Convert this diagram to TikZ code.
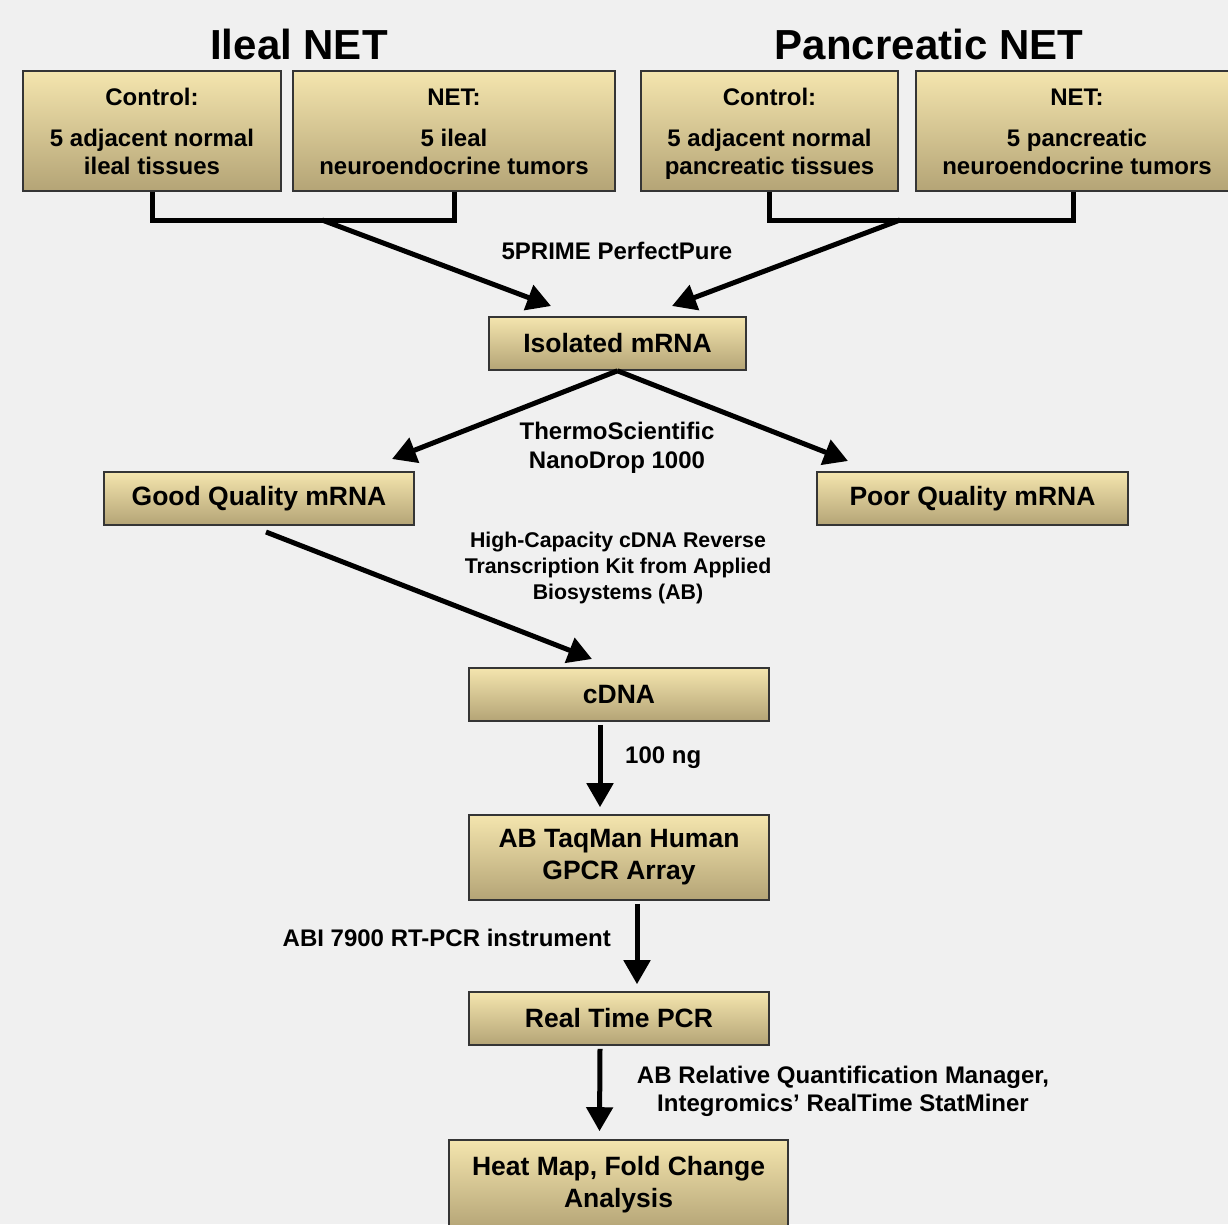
\documentclass[tikz,border=0pt]{standalone}
\usepackage{fontspec}
\setmainfont{Liberation Sans}
\usetikzlibrary{arrows.meta}
\definecolor{bg}{HTML}{F0F0F0}
\definecolor{boxtop}{HTML}{F4E5AE}
\definecolor{boxbot}{HTML}{B4A476}
\definecolor{boxedge}{HTML}{353535}
\tikzset{
  box/.style={draw=boxedge, line width=1.6pt, top color=boxtop, bottom color=boxbot,
    inner sep=0pt, align=center, font=\bfseries\fontsize{26.5}{32}\selectfont},
  topbox/.style={box, font=\bfseries\fontsize{24}{28}\selectfont},
  lbl/.style={inner sep=0pt, align=center, font=\bfseries\fontsize{24}{29}\selectfont},
  ttl/.style={inner sep=0pt, font=\bfseries\fontsize{42}{46}\selectfont},
  conn/.style={line width=5pt, black},
  arr/.style={line width=5pt, black, -{Triangle[length=24pt,width=26pt]}}
}
\newcommand{\topst}{\rule{0pt}{23pt}}
\newcommand{\botst}{\vphantom{p}}
\newcommand{\ind}{\hspace*{8pt}}
\begin{document}
\begin{tikzpicture}[x=1pt,y=-1pt]
\useasboundingbox (0,0) rectangle (1228,1224);
\fill[bg] (0,0) rectangle (1228,1224);

% titles
\node[ttl] (t1) at (299,44) {Ileal NET};
\node[ttl] (t2) at (929,44) {Pancreatic NET};

% top boxes
\node[topbox, minimum width=258pt, minimum height=120pt] (c1) at (152,131)
  {\topst Control:\\[13pt]5 adjacent normal\\ileal tissues\botst};
\node[topbox, minimum width=322pt, minimum height=120pt] (n1) at (454,131)
  {\topst NET:\\[13pt]5 ileal\\neuroendocrine tumors\botst};
\node[topbox, minimum width=257pt, minimum height=120pt] (c2) at (769.5,131)
  {\topst Control:\\[13pt]5 adjacent normal\\pancreatic tissues\botst};
\node[topbox, minimum width=314pt, minimum height=120pt] (n2) at (1073,131)
  {\ind\topst NET:\\[13pt]\ind 5 pancreatic\\\ind neuroendocrine tumors\botst};

% process boxes
\node[box, minimum width=257pt, minimum height=53pt] (iso) at (617.5,343.5) {Isolated mRNA};
\node[box, minimum width=310pt, minimum height=53pt] (good) at (259,498.5) {Good Quality mRNA};
\node[box, minimum width=311pt, minimum height=53pt] (poor) at (972.5,498.5) {Poor Quality mRNA};
\node[box, minimum width=300pt, minimum height=53pt] (cdna) at (619,694.5) {cDNA};
\node[box, minimum width=300pt, minimum height=85pt] (taq) at (619,857.5) {AB TaqMan Human\\GPCR Array};
\node[box, minimum width=300pt, minimum height=53pt] (rt) at (619,1018.5) {Real Time PCR};
\node[box, minimum width=339pt, minimum height=90pt] (heat) at (618.5,1185) {Heat Map, Fold Change\\Analysis};

% labels
\node[lbl] (l1) at (617,251) {5PRIME PerfectPure};
\node[lbl] (l2) at (617,447.5) {ThermoScientific\\NanoDrop 1000};
\node[lbl, font=\bfseries\fontsize{21.3}{26}\selectfont] (l3) at (618,568) {High-Capacity cDNA Reverse\\Transcription Kit from Applied\\Biosystems (AB)};
\node[lbl, anchor=west] (l4) at (625,758) {100 ng};
\node[lbl, anchor=east] (l5) at (611,938) {ABI 7900 RT-PCR instrument};
\node[lbl, font=\bfseries\fontsize{24}{28}\selectfont] (l6) at (843,1091) {AB Relative Quantification Manager,\\Integromics' RealTime StatMiner};

% bracket junctions and arrow targets
\coordinate (b1) at (322,220);
\coordinate (b2) at (900,220);
\coordinate (a1) at (551,306);
\coordinate (a2) at (672,306);
\coordinate (a3) at (392,459);
\coordinate (a4) at (848,461);
\coordinate (g0) at (266,532);
\coordinate (a5) at (592,659);

\draw[conn] (c1.south) |- (b1) -| (n1.south);
\draw[conn] (c2.south) |- (b2) -| (n2.south);
\draw[arr] (b1) -- (a1);
\draw[arr] (b2) -- (a2);
\draw[arr] (iso.south) -- (a3);
\draw[arr] (iso.south) -- (a4);
\draw[arr] (g0) -- (a5);
\draw[arr] ([xshift=-19pt,yshift=-3pt]cdna.south) -- ([xshift=-19pt,yshift=7pt]taq.north);
\draw[arr] ([xshift=18pt,yshift=-3pt]taq.south) -- ([xshift=18pt,yshift=7pt]rt.north);
\draw[arr] ([xshift=-19pt,yshift=-3pt]rt.south) -- ([xshift=-19pt,yshift=8pt]heat.north);
\end{tikzpicture}
\end{document}
